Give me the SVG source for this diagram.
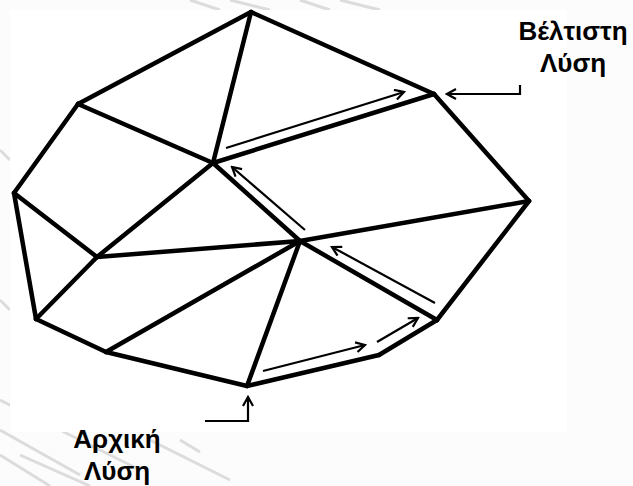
<svg xmlns="http://www.w3.org/2000/svg" width="633" height="486" viewBox="0 0 633 486">
<defs>
<style>
.edge{stroke:#000;stroke-width:4.5;stroke-linecap:round;stroke-linejoin:round;fill:none}
.path{stroke:#000;stroke-width:2.2;fill:none;marker-end:url(#open)}
.wm{stroke:#dcdcdc;stroke-width:3;fill:none}
.lbl{font-family:"Liberation Sans",Arial,sans-serif;font-weight:bold;font-size:26px;fill:#000;text-anchor:middle}
</style>
<marker id="open" viewBox="0 0 12 12" refX="10" refY="6" markerWidth="12" markerHeight="12" markerUnits="userSpaceOnUse" orient="auto">
<path d="M1,1 L10,6 L1,11" fill="none" stroke="#000" stroke-width="2.2"/>
</marker>
</defs>
<rect width="633" height="486" fill="#fcfcfc"/>
<g id="watermark">
<path class="wm" d="M0,400 L60,430 L140,470 M0,430 L80,475 M0,455 L50,486 M20,455 L90,486 M150,440 L210,470 L230,480 M180,440 L200,452 M190,0 L220,10 M230,0 L270,10 M300,0 L330,10 M340,0 L380,10 M0,150 L10,160 M0,300 L10,310"/>
</g>
<rect x="10" y="10" width="557" height="422" fill="#fff"/>
<g id="connectors">
<g id="edges">
<line class="edge" x1="251" y1="12" x2="78" y2="104"/>
<line class="edge" x1="251" y1="12" x2="213" y2="163"/>
<line class="edge" x1="251" y1="12" x2="434" y2="94"/>
<line class="edge" x1="78" y1="104" x2="14" y2="193"/>
<line class="edge" x1="78" y1="104" x2="213" y2="163"/>
<line class="edge" x1="14" y1="193" x2="97" y2="257"/>
<line class="edge" x1="14" y1="193" x2="36" y2="319"/>
<line class="edge" x1="213" y1="163" x2="97" y2="257"/>
<line class="edge" x1="213" y1="163" x2="434" y2="94"/>
<line class="edge" x1="213" y1="163" x2="300" y2="241"/>
<line class="edge" x1="434" y1="94" x2="529" y2="201"/>
<line class="edge" x1="529" y1="201" x2="300" y2="241"/>
<line class="edge" x1="529" y1="201" x2="437" y2="320"/>
<line class="edge" x1="300" y1="241" x2="97" y2="257"/>
<line class="edge" x1="300" y1="241" x2="106" y2="352"/>
<line class="edge" x1="300" y1="241" x2="247" y2="386"/>
<line class="edge" x1="300" y1="241" x2="437" y2="320"/>
<line class="edge" x1="97" y1="257" x2="36" y2="319"/>
<line class="edge" x1="36" y1="319" x2="106" y2="352"/>
<line class="edge" x1="106" y1="352" x2="247" y2="386"/>
<line class="edge" x1="247" y1="386" x2="379" y2="355"/>
<line class="edge" x1="379" y1="355" x2="437" y2="320"/>
</g>
<g id="path-arrows">
<line class="path" x1="263" y1="371" x2="365" y2="345"/>
<line class="path" x1="377" y1="342" x2="418" y2="318"/>
<line class="path" x1="435" y1="303" x2="332" y2="247"/>
<line class="path" x1="305" y1="230" x2="232" y2="167"/>
<line class="path" x1="226" y1="148" x2="404" y2="92"/>
</g>
<polyline id="to-optimal" class="path" points="520,85 520,94 447,94"/>
<polyline id="to-initial" class="path" points="205,421 248,421 248,397"/>
</g>
<g id="label-optimal">
<text class="lbl" x="573" y="40">Βέλτιστη</text>
<text class="lbl" x="573" y="72">Λύση</text>
</g>
<g id="label-initial">
<text class="lbl" x="117" y="448">Αρχική</text>
<text class="lbl" x="117" y="480">Λύση</text>
</g>
</svg>
